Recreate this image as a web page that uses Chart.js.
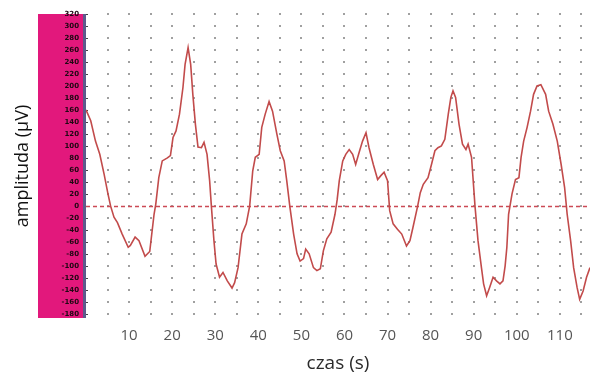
<!DOCTYPE html>
<html>
<head>
<meta charset="utf-8">
<script src="https://cdn.jsdelivr.net/npm/chart.js@4"></script>
<style>
  html, body { margin: 0; padding: 0; background: #ffffff; }
  canvas { display: block; }
</style>
</head>
<body>
<canvas id="c" width="590" height="376"></canvas>
<script>
// time (s)
const timeSec = [0, 1.1, 2.2, 3.2, 4.2, 5.1, 5.7, 6.5, 7.3, 8.4, 9.8, 10.3, 11.4, 12.3, 13.7, 14.8, 15.8, 16.2, 16.9, 17.7, 18.9, 19.6,
  20.2, 20.9, 21.7, 22.5, 23.0, 23.7, 24.3, 24.8, 25.4, 26.0, 26.8, 27.4, 28.1, 28.7, 29.1, 29.7,
  30.2, 31.0, 31.8, 32.8, 33.9, 34.5, 35.3, 36.2, 37.2, 38.0, 38.7, 39.3,
  40.2, 40.8, 41.6, 42.5, 43.3, 44.3, 45.1, 46.0, 46.6, 47.3, 48.2, 49.0, 49.7,
  50.5, 51.0, 51.8, 52.8, 53.6, 54.4, 55.1, 55.9, 56.9, 57.8, 58.3, 58.8, 59.6,
  60.3, 61.1, 61.9, 62.6, 63.4, 64.2, 65.0, 65.7, 66.7, 67.7, 68.4, 69.2,
  70.0, 70.5, 71.3, 72.3, 73.3, 74.4, 75.2, 75.9, 77.0, 77.6, 78.3, 79.4,
  80.2, 81.0, 81.7, 82.5, 83.3, 84.1, 84.7, 85.2, 85.8, 86.6, 87.4, 88.2, 88.7, 89.5,
  90.3, 91.0, 91.8, 92.3, 93.0, 93.7, 94.5, 95.3, 96.1, 96.8, 97.3, 97.7, 98.1, 98.9, 99.7,
  100.5, 101.0, 101.6, 102.4, 103.2, 103.9, 104.7, 105.6, 106.7, 107.4, 108.4, 109.4,
  110.3, 111.1, 111.7, 112.5, 113.2, 114.0, 114.6, 115.4, 116.2, 117.0];
// amplitude (µV)
const amplitudeUV = [160, 142, 108, 86, 53, 20, 0, -19, -28, -47, -69, -66, -52, -58, -84, -76, -14, 3, 47, 75, 80, 84,
  114, 125, 153, 197, 236, 264, 236, 186, 136, 98, 97, 106, 86, 42, 0, -58,
  -97, -119, -111, -125, -137, -128, -103, -47, -30, 0, 58, 81,
  86, 131, 153, 174, 158, 120, 92, 75, 42, 0, -47, -80, -92,
  -88, -72, -80, -103, -108, -105, -75, -55, -44, -14, 10, 42, 75,
  86, 94, 86, 69, 89, 108, 122, 97, 69, 44, 50, 56,
  42, -8, -30, -39, -47, -67, -58, -36, 0, 22, 36, 47,
  69, 92, 97, 100, 111, 153, 181, 192, 181, 136, 103, 94, 103, 81,
  0, -58, -103, -130, -150, -136, -119, -125, -130, -125, -100, -69, -14, 20, 44,
  47, 81, 108, 131, 158, 186, 200, 202, 186, 158, 136, 108,
  69, 31, -14, -58, -103, -136, -156, -142, -119, -103];
// axis ticks
const xTickValues = [10, 20, 30, 40, 50, 60, 70, 80, 90, 100, 110];
const yTickValues = [-180, -160, -140, -120, -100, -80, -60, -40, -20, 0, 20, 40, 60, 80, 100, 120, 140, 160, 180, 200, 220, 240, 260, 280, 300, 320];
const gridDotX = [5, 10, 15, 20, 25, 30, 35, 40, 45, 50, 55, 60, 65, 70, 75, 80, 85, 90, 95, 100, 105, 110, 115];

const points = timeSec.map((t, i) => ({ x: t, y: amplitudeUV[i] }));

const decor = {
  id: 'decor',
  beforeDraw(chart) {
    const { ctx, chartArea: a } = chart;
    ctx.save();
    ctx.fillStyle = '#e2187c';
    ctx.fillRect(38, a.top, a.left - 3 - 38, a.bottom - a.top);
    ctx.fillStyle = '#5d5b8c';
    ctx.fillRect(a.left - 3, a.top, 3, a.bottom - a.top);
    ctx.restore();
  },
  beforeDatasetsDraw(chart) {
    const { ctx, chartArea: a, scales: { x, y } } = chart;
    ctx.save();
    ctx.fillStyle = '#444';
    yTickValues.forEach(v => {
      const py = Math.round(y.getPixelForValue(v));
      ctx.fillRect(a.left, py, 2, 1);
    });
    ctx.fillStyle = '#a0a0a0';
    gridDotX.forEach(t => {
      const px = x.getPixelForValue(t);
      yTickValues.forEach(v => {
        const py = y.getPixelForValue(v);
        ctx.fillRect(Math.round(px) - 1, Math.round(py) - 1, 2, 2);
      });
    });
    ctx.strokeStyle = '#cc4a55';
    ctx.lineWidth = 1.3;
    ctx.setLineDash([4, 3]);
    const y0 = Math.round(y.getPixelForValue(0)) + 0.5;
    ctx.beginPath();
    ctx.moveTo(a.left, y0);
    ctx.lineTo(a.right, y0);
    ctx.stroke();
    ctx.restore();
  }
};

new Chart(document.getElementById('c'), {
  type: 'line',
  data: {
    datasets: [{
      data: points,
      borderColor: '#c24b4b',
      borderWidth: 1.6,
      pointRadius: 0,
      tension: 0,
      fill: false
    }]
  },
  options: {
    responsive: false,
    animation: false,
    devicePixelRatio: 1,
    layout: { padding: { top: 14, left: 0, right: 0, bottom: 0 } },
    plugins: { legend: { display: false }, tooltip: { enabled: false } },
    scales: {
      x: {
        type: 'linear',
        min: 0,
        max: 117,
        afterBuildTicks: s => { s.ticks = xTickValues.map(v => ({ value: v })); },
        afterFit: s => { s.height = 58; },
        ticks: {
          autoSkip: false,
          maxRotation: 0,
          padding: 9,
          color: '#555555',
          font: { family: 'Open Sans', size: 15 }
        },
        grid: { display: false, drawTicks: false },
        border: { display: false },
        title: {
          display: true,
          text: 'czas (s)',
          color: '#2a2a2a',
          font: { family: 'Open Sans', size: 19 },
          padding: { top: 0, bottom: 1 }
        }
      },
      y: {
        type: 'linear',
        min: -187,
        max: 320,
        afterBuildTicks: s => { s.ticks = yTickValues.map(v => ({ value: v })); },
        afterFit: s => { s.width = 86; },
        ticks: {
          autoSkip: false,
          padding: 7,
          color: '#1e0812',
          font: { family: 'DejaVu Sans', size: 7, weight: 'bold' }
        },
        grid: { display: false, drawTicks: false },
        border: { display: false },
        title: {
          display: true,
          text: 'amplituda (µV)',
          color: '#111111',
          font: { family: 'Open Sans', size: 18 },
          padding: { top: 12, bottom: 0 }
        }
      }
    }
  },
  plugins: [decor]
});
</script>
</body>
</html>
